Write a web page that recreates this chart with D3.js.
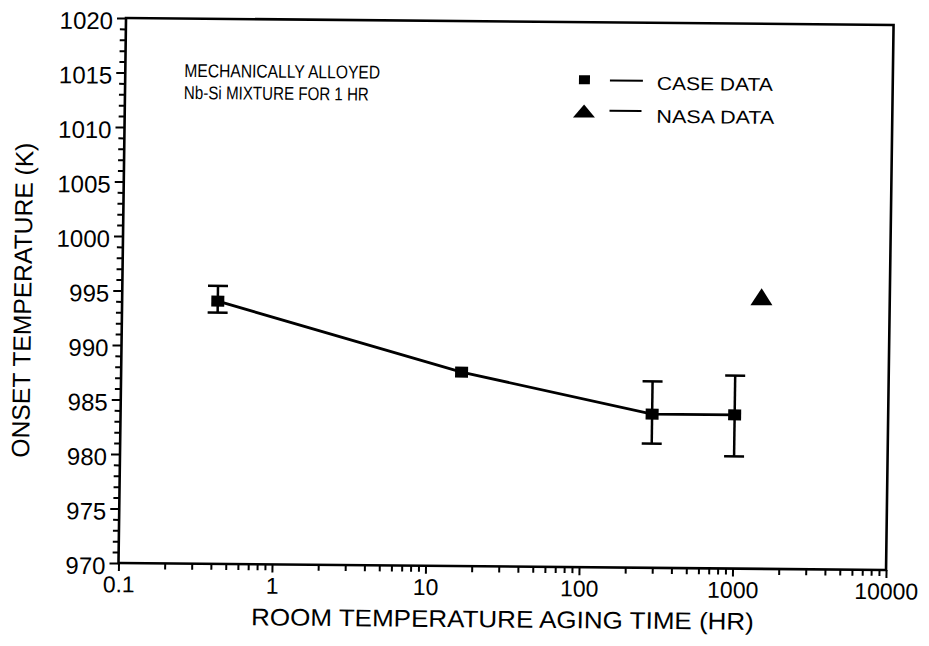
<!DOCTYPE html>
<html>
<head>
<meta charset="utf-8">
<script src="https://cdn.jsdelivr.net/npm/d3@7"></script>
<style>
  html, body { margin: 0; padding: 0; background: #fff; }
  svg { display: block; }
  text { font-family: "Liberation Sans", Arial, Helvetica, sans-serif; fill: #000; }
</style>
</head>
<body>
<svg id="chart" width="929" height="646"></svg>
<script>
// ---- data ----
const xTickValues = [0.1, 1, 10, 100, 1000, 10000];
const xTickLabels = ["0.1", "1", "10", "100", "1000", "10000"];
const yTickValues = [970, 975, 980, 985, 990, 995, 1000, 1005, 1010, 1015, 1020];
const yTickLabels = ["970", "975", "980", "985", "990", "995", "1000", "1005", "1010", "1015", "1020"];

const caseTime = [0.42, 16.5, 290, 1000];
const caseTemp = [994.1, 987.8, 984.1, 984.1];
const caseErrHigh = [995.5, null, 987.1, 987.7];
const caseErrLow = [993.05, null, 981.4, 980.3];

const nasaTime = [1460];
const nasaTemp = [994.7];

const legendLabels = ["CASE DATA", "NASA DATA"];
const noteLines = ["MECHANICALLY ALLOYED", "Nb-Si MIXTURE FOR 1 HR"];
const xTitle = "ROOM TEMPERATURE AGING TIME (HR)";
const yTitle = "ONSET TEMPERATURE (K)";

// ---- layout ----
const W = 768, H = 545;
const svg = d3.select("#chart");
// slight skew of the scanned original
const g = svg.append("g").attr("transform", "matrix(0.9994,0.0091,-0.0138,1,118.5,563)");

const x = d3.scaleLog().domain([0.1, 10000]).range([0, W]);
const y = d3.scaleLinear().domain([970, 1020]).range([0, -H]);

// minor ticks
const xMinor = [];
for (let e = -1; e < 4; e++) for (let k = 2; k <= 9; k++) xMinor.push(k * Math.pow(10, e));
const yMinor = d3.range(970, 1021, 1).filter(v => v % 5 !== 0);

const axX = g.append("g").call(d3.axisBottom(x).tickValues(xMinor).tickSize(6).tickFormat(""));
const axX2 = g.append("g").call(d3.axisBottom(x).tickValues(xTickValues).tickSize(8)
  .tickFormat((d, i) => xTickLabels[i]).tickPadding(5));
const axY = g.append("g").call(d3.axisLeft(y).tickValues(yMinor).tickSize(6).tickFormat(""));
const axY2 = g.append("g").call(d3.axisLeft(y).tickValues(yTickValues).tickSize(9)
  .tickFormat((d, i) => yTickLabels[i]).tickPadding(4));

[axX, axX2, axY, axY2].forEach(a => {
  a.select(".domain").remove();
  a.selectAll(".tick line").attr("stroke", "#000").attr("stroke-width", 2);
});
axX2.selectAll(".tick text").attr("font-size", 23).attr("dy", "0.71em");
axY2.selectAll(".tick text").attr("font-size", 24).attr("dy", "0.45em");

// frame
g.append("rect").attr("x", 0).attr("y", -H).attr("width", W).attr("height", H)
  .attr("fill", "none").attr("stroke", "#000").attr("stroke-width", 2.6);

// titles
g.append("text").attr("x", 385).attr("y", 61).attr("text-anchor", "middle")
  .attr("font-size", 24).attr("textLength", 503).attr("lengthAdjust", "spacingAndGlyphs")
  .text(xTitle);
g.append("text").attr("transform", "translate(-91,-262) rotate(-90)").attr("text-anchor", "middle")
  .attr("font-size", 25).attr("textLength", 315).attr("lengthAdjust", "spacingAndGlyphs")
  .text(yTitle);

// annotation
const noteY = [-486.6, -464.6];
const noteLen = [196, 185];
noteLines.forEach((t, i) => {
  g.append("text").attr("x", 59).attr("y", noteY[i]).attr("font-size", 18.5)
    .attr("textLength", noteLen[i]).attr("lengthAdjust", "spacingAndGlyphs").text(t);
});

// data line
const pts = caseTime.map((t, i) => ({ t, v: caseTemp[i], hi: caseErrHigh[i], lo: caseErrLow[i] }));
g.append("path").datum(pts)
  .attr("d", d3.line().x(d => x(d.t)).y(d => y(d.v)))
  .attr("fill", "none").attr("stroke", "#000").attr("stroke-width", 2.8);

// error bars
const eb = g.append("g").attr("stroke", "#000").attr("stroke-width", 2.5);
pts.filter(d => d.hi != null).forEach(d => {
  const cx = x(d.t);
  eb.append("line").attr("x1", cx).attr("x2", cx).attr("y1", y(d.hi)).attr("y2", y(d.lo));
  eb.append("line").attr("x1", cx - 10).attr("x2", cx + 10).attr("y1", y(d.hi)).attr("y2", y(d.hi));
  eb.append("line").attr("x1", cx - 10).attr("x2", cx + 10).attr("y1", y(d.lo)).attr("y2", y(d.lo));
});

// squares
g.selectAll("rect.pt").data(pts).enter().append("rect").attr("class", "pt")
  .attr("x", d => x(d.t) - 6.5).attr("y", d => y(d.v) - 5.5)
  .attr("width", 13).attr("height", 11).attr("fill", "#000");

// NASA triangle
const tri = (cx, cy, w, h) => `M${cx - w / 2},${cy + h / 3}L${cx + w / 2},${cy + h / 3}L${cx},${cy - 2 * h / 3}Z`;
g.selectAll("path.nasa").data(nasaTime.map((t, i) => ({ t, v: nasaTemp[i] }))).enter()
  .append("path").attr("class", "nasa")
  .attr("d", d => tri(x(d.t), y(d.v), 22, 17)).attr("fill", "#000");

// legend
g.append("rect").attr("x", 454).attr("y", -492).attr("width", 11).attr("height", 9).attr("fill", "#000");
g.append("line").attr("x1", 485).attr("x2", 518).attr("y1", -487).attr("y2", -487)
  .attr("stroke", "#000").attr("stroke-width", 2);
g.append("text").attr("x", 532).attr("y", -478).attr("font-size", 18.5)
  .attr("textLength", 116).attr("lengthAdjust", "spacingAndGlyphs").text(legendLabels[0]);
g.append("path").attr("d", tri(459.5, -454, 22, 13)).attr("fill", "#000");
g.append("line").attr("x1", 485).attr("x2", 517).attr("y1", -456.6).attr("y2", -456.6)
  .attr("stroke", "#000").attr("stroke-width", 2);
g.append("text").attr("x", 532).attr("y", -445).attr("font-size", 18.5)
  .attr("textLength", 118).attr("lengthAdjust", "spacingAndGlyphs").text(legendLabels[1]);
</script>
</body>
</html>
